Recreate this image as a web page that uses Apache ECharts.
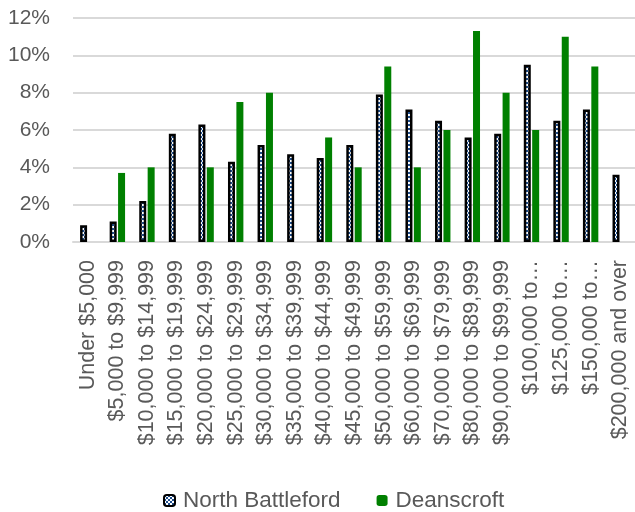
<!DOCTYPE html>
<html>
<head>
<meta charset="utf-8">
<script src="https://cdn.jsdelivr.net/npm/echarts@6/dist/echarts.min.js"></script>
<style>
  html, body { margin: 0; padding: 0; background: #ffffff; }
  #chart { width: 635px; height: 512px; }
</style>
</head>
<body>
<div id="chart"></div>
<script>
// Household income brackets (axis labels)
const categories = [
  'Under $5,000', '$5,000 to $9,999', '$10,000 to $14,999', '$15,000 to $19,999',
  '$20,000 to $24,999', '$25,000 to $29,999', '$30,000 to $34,999', '$35,000 to $39,999',
  '$40,000 to $44,999', '$45,000 to $49,999', '$50,000 to $59,999', '$60,000 to $69,999',
  '$70,000 to $79,999', '$80,000 to $89,999', '$90,000 to $99,999', '$100,000 to…',
  '$125,000 to…', '$150,000 to…', '$200,000 and over'
];

// Share of households in each bracket, percent
const northBattleford = [0.9, 1.1, 2.2, 5.8, 6.3, 4.3, 5.2, 4.7, 4.5, 5.2, 7.9, 7.1, 6.5, 5.6, 5.8, 9.5, 6.5, 7.1, 3.6];
const deanscroft      = [0, 3.7, 4.0, 0, 4.0, 7.5, 8.0, 0, 5.6, 4.0, 9.4, 4.0, 6.0, 11.3, 8.0, 6.0, 11.0, 9.4, 0];

// Value axis ticks
const yTicks = { min: 0, max: 12, interval: 2 };

// Small blue/white checkerboard used as the North Battleford fill
function checkerPattern() {
  const c = document.createElement('canvas');
  c.width = 4; c.height = 4;
  const ctx = c.getContext('2d');
  ctx.fillStyle = '#ffffff';
  ctx.fillRect(0, 0, 4, 4);
  ctx.fillStyle = '#1f4e8c';
  ctx.fillRect(0, 0, 2, 2);
  ctx.fillRect(2, 2, 2, 2);
  return c;
}

const FONT = 'Liberation Sans';
const TEXT = '#595959';

const chart = echarts.init(document.getElementById('chart'), null, { renderer: 'canvas' });
chart.setOption({
  animation: false,
  textStyle: { fontFamily: FONT },
  grid: { left: 73, right: 0, top: 18, bottom: 270, containLabel: false },
  legend: {
    top: 484,
    left: 158,
    itemWidth: 11,
    itemHeight: 11,
    itemGap: 36,
    textStyle: { fontFamily: FONT, fontSize: 22.5, color: TEXT, padding: [0, 0, 0, 3] },
    data: ['North Battleford', 'Deanscroft']
  },
  xAxis: {
    type: 'category',
    data: categories,
    axisLine: { show: true, lineStyle: { color: '#d9d9d9', width: 2 } },
    axisTick: { show: false },
    axisLabel: {
      rotate: 90,
      interval: 0,
      margin: 18,
      fontFamily: FONT,
      fontSize: 21.5,
      color: TEXT
    }
  },
  yAxis: {
    type: 'value',
    min: yTicks.min,
    max: yTicks.max,
    interval: yTicks.interval,
    axisLine: { show: false },
    axisTick: { show: false },
    splitLine: { lineStyle: { color: '#d9d9d9', width: 2 } },
    axisLabel: {
      formatter: v => v + '%',
      margin: 23,
      fontFamily: FONT,
      fontSize: 21,
      color: TEXT
    }
  },
  series: [
    {
      name: 'North Battleford',
      type: 'bar',
      data: northBattleford,
      barWidth: 7,
      barGap: '20%',
      itemStyle: {
        color: { image: checkerPattern(), repeat: 'repeat' },
        borderColor: '#000000',
        borderWidth: 2.5
      }
    },
    {
      name: 'Deanscroft',
      type: 'bar',
      data: deanscroft,
      barWidth: 7,
      barGap: '20%',
      itemStyle: { color: '#008000' }
    }
  ]
});
</script>
</body>
</html>
